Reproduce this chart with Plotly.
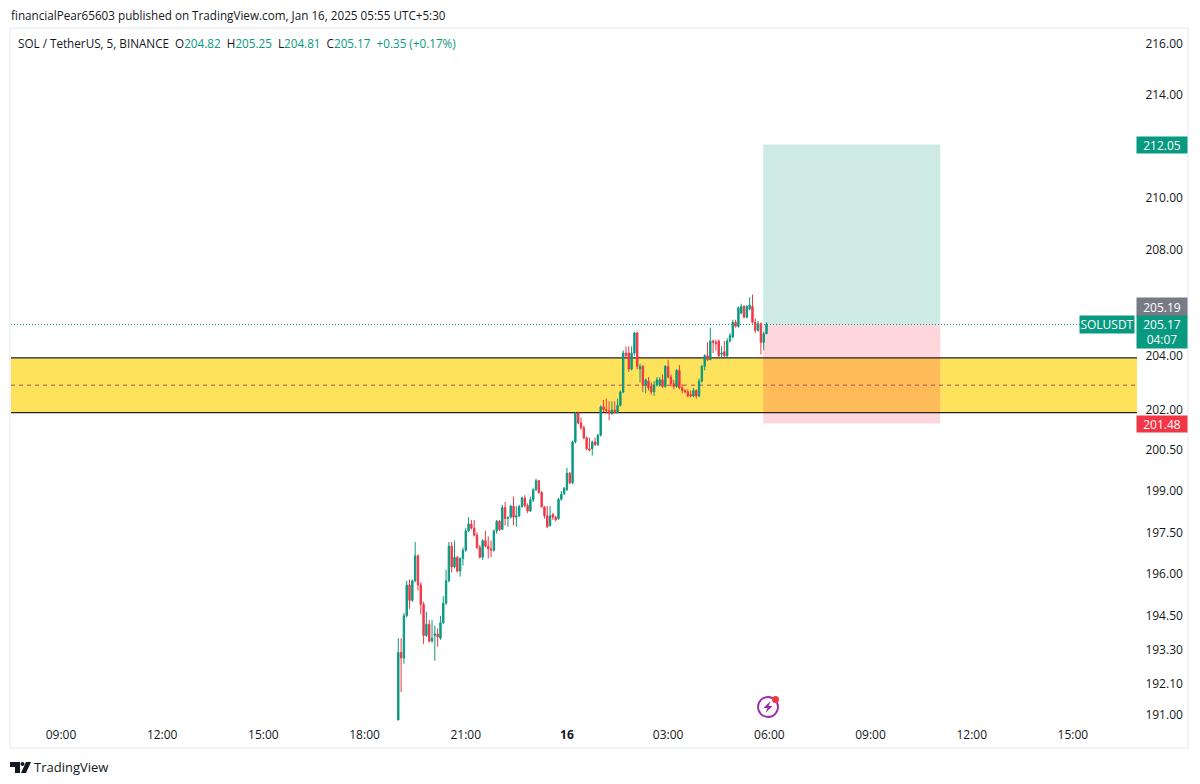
import math
import pandas as pd
import plotly.graph_objects as go

W, H = 1200, 784
PL, PR, PT, PB = 11, 1137, 28, 722

# 5-minute candles from 2025-01-15 19:00 (O, H, L, C)
start_time = "2025-01-15 19:00"
opens = [190.82,193.2,193.0,194.5,195.6,195.05,195.75,196.65,195.6,194.9,193.8,194.2,193.6,193.8,193.85,193.7,194.25,194.95,195.75,197.0,
196.25,196.6,196.1,196.55,196.85,197.55,197.8,197.65,197.4,196.95,196.6,197.2,197.0,196.9,196.85,197.55,197.9,197.6,198.4,198.0,
198.05,198.45,198.05,198.1,198.43,198.75,198.47,198.27,198.68,199.05,199.38,198.95,198.42,198.1,197.75,198.15,198.05,198.0,198.7,198.9,
199.05,199.65,199.3,200.8,201.87,201.5,201.32,200.95,200.55,200.55,200.8,200.7,201.05,202.1,202.0,201.95,201.85,201.98,201.88,202.15,
202.65,204.1,204.1,203.5,204.1,204.85,203.5,203.6,202.9,203.05,202.85,202.65,202.9,202.9,203.1,202.85,203.6,203.2,202.95,202.85,
203.45,202.8,202.7,202.65,202.55,202.5,202.7,202.5,203.05,203.6,204.0,203.85,204.55,204.5,204.55,204.05,204.15,204.0,204.55,204.7,
205.25,205.1,205.6,205.85,205.45,205.75,205.85,205.25,204.95,205.2,204.5,204.82]
highs = [193.7,193.7,194.6,195.75,195.8,195.8,197.15,196.7,195.7,195.0,194.65,194.35,194.35,194.15,194.05,194.5,195.2,196.15,197.15,197.15,
197.2,196.65,196.6,196.95,197.65,198.05,197.95,197.95,197.5,197.05,197.25,197.55,197.35,197.2,197.6,197.95,197.95,198.5,198.6,198.05,
198.5,198.8,198.45,198.5,198.8,198.85,198.55,198.8,199.1,199.45,199.4,199.0,198.45,198.45,198.45,198.2,198.1,198.75,199.0,199.15,
199.85,199.7,200.85,201.9,201.9,201.7,201.4,201.0,200.95,200.85,200.95,201.1,202.15,202.35,202.4,202.3,202.3,202.3,202.4,202.7,
204.2,204.35,204.35,204.35,204.9,204.9,203.7,203.65,203.15,203.2,203.0,203.05,203.2,203.2,203.3,203.65,203.85,203.3,203.1,203.5,
203.65,202.95,202.75,202.75,202.7,202.8,202.75,203.15,203.65,204.05,204.5,205.05,204.6,204.6,204.6,204.35,204.55,204.65,204.85,205.35,
205.35,205.85,205.95,205.9,205.9,206.2,206.3,205.4,205.3,205.25,204.9,205.25]
lows = [190.82,191.8,192.8,194.45,194.75,195.0,195.7,195.4,194.55,193.5,193.75,193.55,193.55,192.9,193.4,193.65,194.2,194.9,195.7,196.05,
196.2,196.05,195.9,196.3,196.8,197.5,197.6,197.35,196.9,196.55,196.5,196.95,196.55,196.6,196.8,197.45,197.55,197.6,197.75,197.7,
198.0,197.75,197.7,198.05,198.4,198.4,198.2,198.25,198.6,199.0,198.9,198.4,198.0,197.65,197.7,197.95,197.9,197.95,198.65,198.85,
199.0,199.25,199.25,200.75,201.45,201.25,200.9,200.5,200.45,200.3,200.65,200.65,201.0,201.9,201.85,201.6,201.8,201.85,201.85,202.1,
202.6,203.9,203.4,203.45,204.0,203.5,203.0,202.65,202.6,202.7,202.55,202.5,202.85,202.85,202.8,202.8,203.15,202.85,202.75,202.8,
202.75,202.6,202.6,202.45,202.45,202.45,202.4,202.45,203.0,203.45,203.8,203.85,204.1,204.2,203.95,203.9,203.95,203.95,204.5,204.65,
205.05,205.05,205.55,205.4,205.4,205.7,205.2,204.85,204.9,204.05,204.2,204.81]
closes = [193.2,193.0,194.5,195.6,195.05,195.75,196.65,195.6,194.9,193.8,194.2,193.6,193.7,193.85,193.75,194.25,194.95,195.75,197.0,196.25,
196.6,196.1,196.55,196.85,197.55,197.8,197.65,197.4,196.95,196.6,197.2,197.0,196.9,196.85,197.55,197.9,197.6,198.4,198.0,198.05,
198.45,198.05,198.1,198.43,198.75,198.47,198.27,198.68,199.05,199.38,198.95,198.42,198.1,197.7,198.1,198.05,197.95,198.7,198.88,199.1,
199.65,199.3,200.8,201.87,201.5,201.32,200.95,200.55,200.5,200.8,200.7,201.05,202.1,202.0,201.95,201.85,201.98,201.87,202.15,202.65,
204.1,204.0,203.5,204.1,204.85,203.6,203.6,202.9,203.1,202.8,202.65,202.9,203.1,203.1,202.85,203.6,203.2,202.95,202.85,203.45,
202.8,202.7,202.65,202.5,202.5,202.7,202.5,203.05,203.6,204.0,203.85,204.55,204.5,204.45,204.0,204.1,204.0,204.55,204.75,205.25,
205.1,205.8,205.85,205.45,205.85,205.9,205.25,204.95,205.2,204.5,204.82,205.17]

price_ticks = [216, 214, 210, 208, 204, 202, 200.5, 199, 197.5, 196, 194.5, 193.3, 192.1, 191]
time_ticks = ["2025-01-15 09:00","2025-01-15 12:00","2025-01-15 15:00","2025-01-15 18:00","2025-01-15 21:00",
              "2025-01-16 00:00","2025-01-16 03:00","2025-01-16 06:00","2025-01-16 09:00","2025-01-16 12:00","2025-01-16 15:00"]
time_labels = ["09:00","12:00","15:00","18:00","21:00","<b>16</b>","03:00","06:00","09:00","12:00","15:00"]

x_range = ["2025-01-15 07:31:05", "2025-01-16 16:54:00"]
y_range = [190.75, 216.63]

zone_top, zone_mid, zone_bottom = 203.92, 202.9, 201.88
pos_start, pos_end = "2025-01-16 05:49", "2025-01-16 11:04"
target, entry, stop = 212.05, 205.17, 201.48
last_price = 205.17
TEXT = "#131722"
UP, DOWN = "#089981", "#F23645"
FONT = "Open Sans"


def px(x):
    return (x - PL) / (PR - PL)


def py(y):
    return (PB - y) / (PB - PT)


times = pd.date_range(start_time, periods=len(opens), freq="5min")

fig = go.Figure(go.Candlestick(
    x=times, open=opens, high=highs, low=lows, close=closes,
    increasing=dict(line=dict(color=UP, width=1), fillcolor=UP),
    decreasing=dict(line=dict(color=DOWN, width=1), fillcolor=DOWN),
    showlegend=False, hoverinfo="skip",
))

shapes = [
    dict(type="rect", layer="below", x0=x_range[0], x1=x_range[1], y0=zone_bottom, y1=zone_top,
         fillcolor="#FFE25C", line_width=0),
    dict(type="rect", layer="below", x0=pos_start, x1=pos_end, y0=entry, y1=target,
         fillcolor="#CDEBE4", line_width=0),
    dict(type="rect", layer="below", x0=pos_start, x1=pos_end, y0=stop, y1=entry,
         fillcolor="#FFD6DC", line_width=0),
    dict(type="rect", layer="below", x0=pos_start, x1=pos_end, y0=zone_bottom, y1=zone_top,
         fillcolor="#FFBC58", line_width=0),
    dict(type="line", layer="below", x0=x_range[0], x1=x_range[1], y0=zone_top, y1=zone_top,
         line=dict(color="#222222", width=1.2)),
    dict(type="line", layer="below", x0=x_range[0], x1=x_range[1], y0=zone_bottom, y1=zone_bottom,
         line=dict(color="#222222", width=1.2)),
    dict(type="line", layer="below", x0=x_range[0], x1=x_range[1], y0=zone_mid, y1=zone_mid,
         line=dict(color="#B04A6A", width=1, dash="4px,4px")),
    dict(type="line", layer="below", x0=x_range[0], x1="2025-01-16 15:13", y0=last_price, y1=last_price,
         line=dict(color=UP, width=1, dash="1px,2px")),
]

# frame lines
for x0, y0, x1, y1 in [(10, 28, 10, 748), (10, 28, 1188, 28), (10, 748, 1188, 748), (1188, 28, 1188, 748)]:
    shapes.append(dict(type="line", xref="paper", yref="paper", x0=px(x0), x1=px(x1), y0=py(y0), y1=py(y1),
                       line=dict(color="#E6E8EE", width=1)))

# bolt badge
shapes.append(dict(type="circle", xref="paper", yref="paper", x0=px(758), x1=px(778), y0=py(717), y1=py(697),
                   line=dict(color="#9C27B0", width=1.8)))
shapes.append(dict(type="circle", xref="paper", yref="paper", x0=px(772), x1=px(779), y0=py(703), y1=py(696),
                   fillcolor="#F23645", line_width=0))
bolt = [(770.5, 701), (763.5, 708), (767.5, 708), (765.5, 713), (772.5, 706), (768.5, 706)]
bolt_path = "M " + " L ".join(f"{px(a):.5f},{py(b):.5f}" for a, b in bolt) + " Z"
shapes.append(dict(type="path", xref="paper", yref="paper", path=bolt_path, fillcolor="#9C27B0", line_width=0))

# logo mark
logo_a = [(10, 762), (20, 762), (20, 773), (15, 773), (15, 767), (10, 767)]
logo_b = [(26, 762), (31, 762), (26, 773), (21, 773)]
for pts in (logo_a, logo_b):
    shapes.append(dict(type="path", xref="paper", yref="paper",
                       path="M " + " L ".join(f"{px(a):.5f},{py(b):.5f}" for a, b in pts) + " Z",
                       fillcolor="#131722", line_width=0))
shapes.append(dict(type="circle", xref="paper", yref="paper", x0=px(20.5), x1=px(24.5), y0=py(766), y1=py(762),
                   fillcolor="#131722", line_width=0))


def text(x, y, s, size=11.7, color=TEXT, anchor="left"):
    return dict(xref="paper", yref="paper", x=px(x), y=py(y), text=s, showarrow=False,
                xanchor=anchor, yanchor="middle", align=anchor, font=dict(size=size, color=color, family=FONT))


def badge(x0, x1, y0, y1, s, bg, size=12):
    return dict(xref="paper", yref="paper", x=px((x0 + x1) / 2), y=py((y0 + y1) / 2), text=s, showarrow=False,
                xanchor="center", yanchor="middle", width=x1 - x0, height=y1 - y0, bgcolor=bg, borderpad=0,
                align="center", font=dict(size=size, color="#FFFFFF", family=FONT))


g = lambda s: f'<span style="color:{UP}">{s}</span>'
annotations = [
    text(9, 15, "financialPear65603 published on TradingView.com, Jan 16, 2025 05:55 UTC+5:30"),
    text(16, 43, "SOL / TetherUS, 5, BINANCE  O" + g("204.82") + "  H" + g("205.25") + "  L" + g("204.81")
         + "  C" + g("205.17") + "  " + g("+0.35 (+0.17%)")),
    text(32, 767, "TradingView", size=13),
    badge(1137, 1187, 137, 153, "212.05", UP),
    badge(1137, 1187, 298, 316, "205.19", "#787B86"),
    badge(1137, 1187, 316, 348, "205.17<br>04:07", UP),
    badge(1080, 1134, 316, 333, "SOLUSDT", UP),
    badge(1137, 1187, 416, 432, "201.48", DOWN),
]

fig.update_layout(
    width=W, height=H, margin=dict(l=PL, r=W - PR, t=PT, b=H - PB),
    paper_bgcolor="white", plot_bgcolor="white",
    font=dict(family=FONT, size=12, color=TEXT),
    shapes=shapes, annotations=annotations, showlegend=False,
    xaxis=dict(type="date", range=x_range, rangeslider=dict(visible=False), showgrid=False, zeroline=False,
               showline=False, tickmode="array", tickvals=time_ticks, ticktext=time_labels,
               ticks="outside", ticklen=2, tickcolor="white", tickfont=dict(size=12, color=TEXT, family=FONT)),
    yaxis=dict(type="log", side="right", range=[math.log10(y_range[0]), math.log10(y_range[1])], showgrid=False,
               zeroline=False, showline=False, tickmode="array", tickvals=price_ticks,
               ticktext=[f"{v:.2f}" for v in price_ticks], ticks="outside", ticklen=5, tickcolor="white",
               tickfont=dict(size=12, color=TEXT, family=FONT)),
)

fig.write_html("out.html", post_script="document.body.style.margin='0';", config={"displayModeBar": False})
